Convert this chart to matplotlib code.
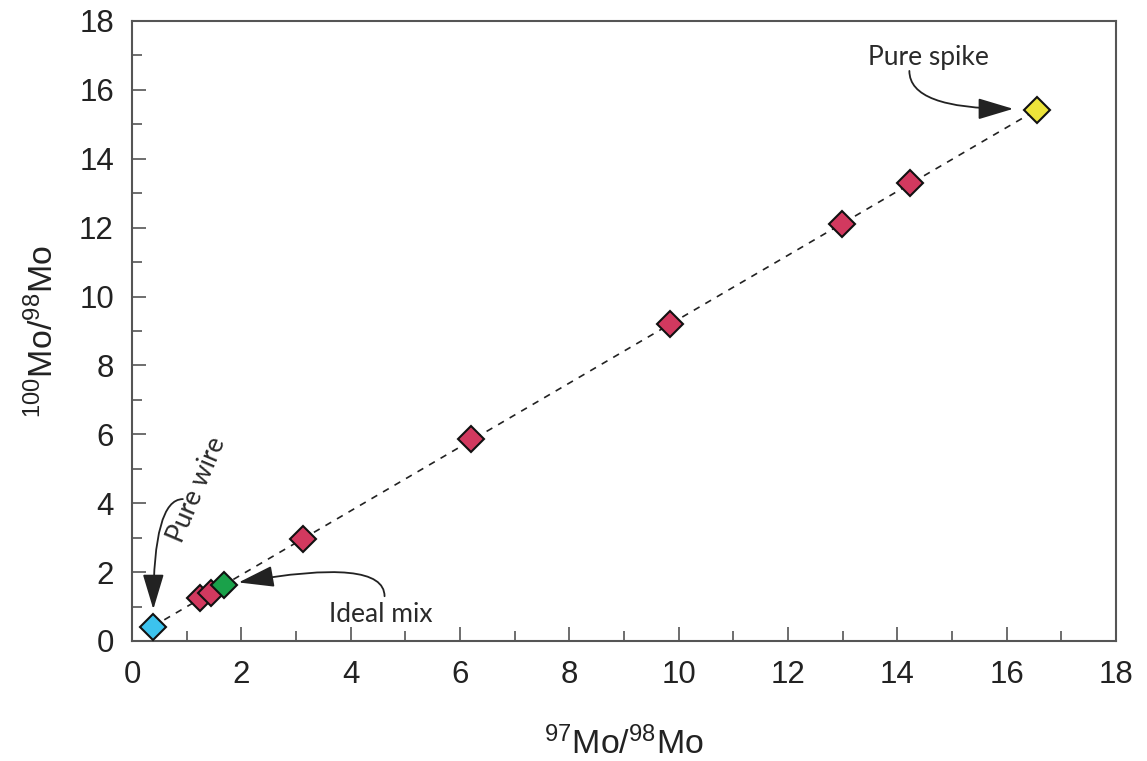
import matplotlib
matplotlib.use("Agg")
import matplotlib.pyplot as plt
from matplotlib.ticker import MultipleLocator

plt.rcParams['font.family'] = ['Liberation Sans', 'DejaVu Sans']
plt.rcParams['mathtext.fontset'] = 'custom'
plt.rcParams['mathtext.rm'] = 'Liberation Sans'
plt.rcParams['mathtext.it'] = 'Liberation Sans'

# Data
mo97_98 = [0.38, 1.24, 1.44, 1.68, 3.12, 6.20, 9.84, 12.98, 14.24, 16.55]
mo100_98 = [0.42, 1.24, 1.40, 1.62, 2.97, 5.86, 9.20, 12.10, 13.30, 15.42]
point_colors = ['#3CC3EE', '#D2395F', '#D2395F', '#1AA14A', '#D2395F',
                '#D2395F', '#D2395F', '#D2395F', '#D2395F', '#EDE43A']

annotations = [
    # text, text position, arrow start, arrow tip, rotation, connection
    ("Pure spike", (14.56, 16.95), (14.22, 16.55), (16.12, 15.45), 0, "angle3,angleA=90,angleB=0"),
    ("Ideal mix", (4.55, 0.78), (4.62, 1.30), (1.95, 1.70), 0, "angle3,angleA=90,angleB=10"),
    ("Pure wire", (1.18, 4.40), (0.93, 4.12), (0.39, 0.92), 67, "angle3,angleA=0,angleB=90"),
]

fig = plt.figure(figsize=(11.47, 7.61), dpi=100)
ax = fig.add_axes([132/1147, 1-641/761, (1116-132)/1147, (641-21)/761])

# dashed mixing line between the two end members
ax.plot([mo97_98[0], mo97_98[-1]], [mo100_98[0], mo100_98[-1]],
        ls=(0, (4, 4)), color='#222222', lw=1.2, zorder=2)

for x, y, c in zip(mo97_98, mo100_98, point_colors):
    ax.plot(x, y, marker='D', ms=13.5, mfc=c, mec='#111111', mew=1.5,
            ls='none', zorder=3)

for text, tpos, start, tip, rot, conn in annotations:
    ax.text(tpos[0], tpos[1], text, fontsize=19, family=['Lato', 'DejaVu Sans'],
            color='#2a2a2a', ha='center', va='center', rotation=rot)
    ax.annotate('', xy=tip, xytext=start,
                arrowprops=dict(arrowstyle='-|>,head_length=1.0,head_width=0.3',
                                mutation_scale=22, color='#222222', lw=1.3,
                                connectionstyle=conn, shrinkA=0, shrinkB=0))

ax.set_xlim(0, 18)
ax.set_ylim(0, 18)
ax.xaxis.set_major_locator(MultipleLocator(2))
ax.xaxis.set_minor_locator(MultipleLocator(1))
ax.yaxis.set_major_locator(MultipleLocator(2))
ax.yaxis.set_minor_locator(MultipleLocator(1))
ax.tick_params(which='both', direction='in', top=False, right=False,
               color='#555555', width=1.2)
ax.tick_params(which='major', length=10)
ax.tick_params(which='minor', length=7)
ax.tick_params(axis='x', which='major', labelsize=22.5, pad=14, labelcolor='#222222')
ax.tick_params(axis='y', which='major', labelsize=22.5, pad=13, labelcolor='#222222')
for s in ax.spines.values():
    s.set_color('#555555')
    s.set_linewidth(1.5)

ax.set_xlabel(r'$^{97}$Mo/$^{98}$Mo', fontsize=24.5, color='#222222')
ax.set_ylabel(r'$^{100}$Mo/$^{98}$Mo', fontsize=24.5, color='#222222')
ax.xaxis.set_label_coords(0.5, -0.138)
ax.yaxis.set_label_coords(-0.073, 0.5)

fig.savefig('out.png', dpi=100)
